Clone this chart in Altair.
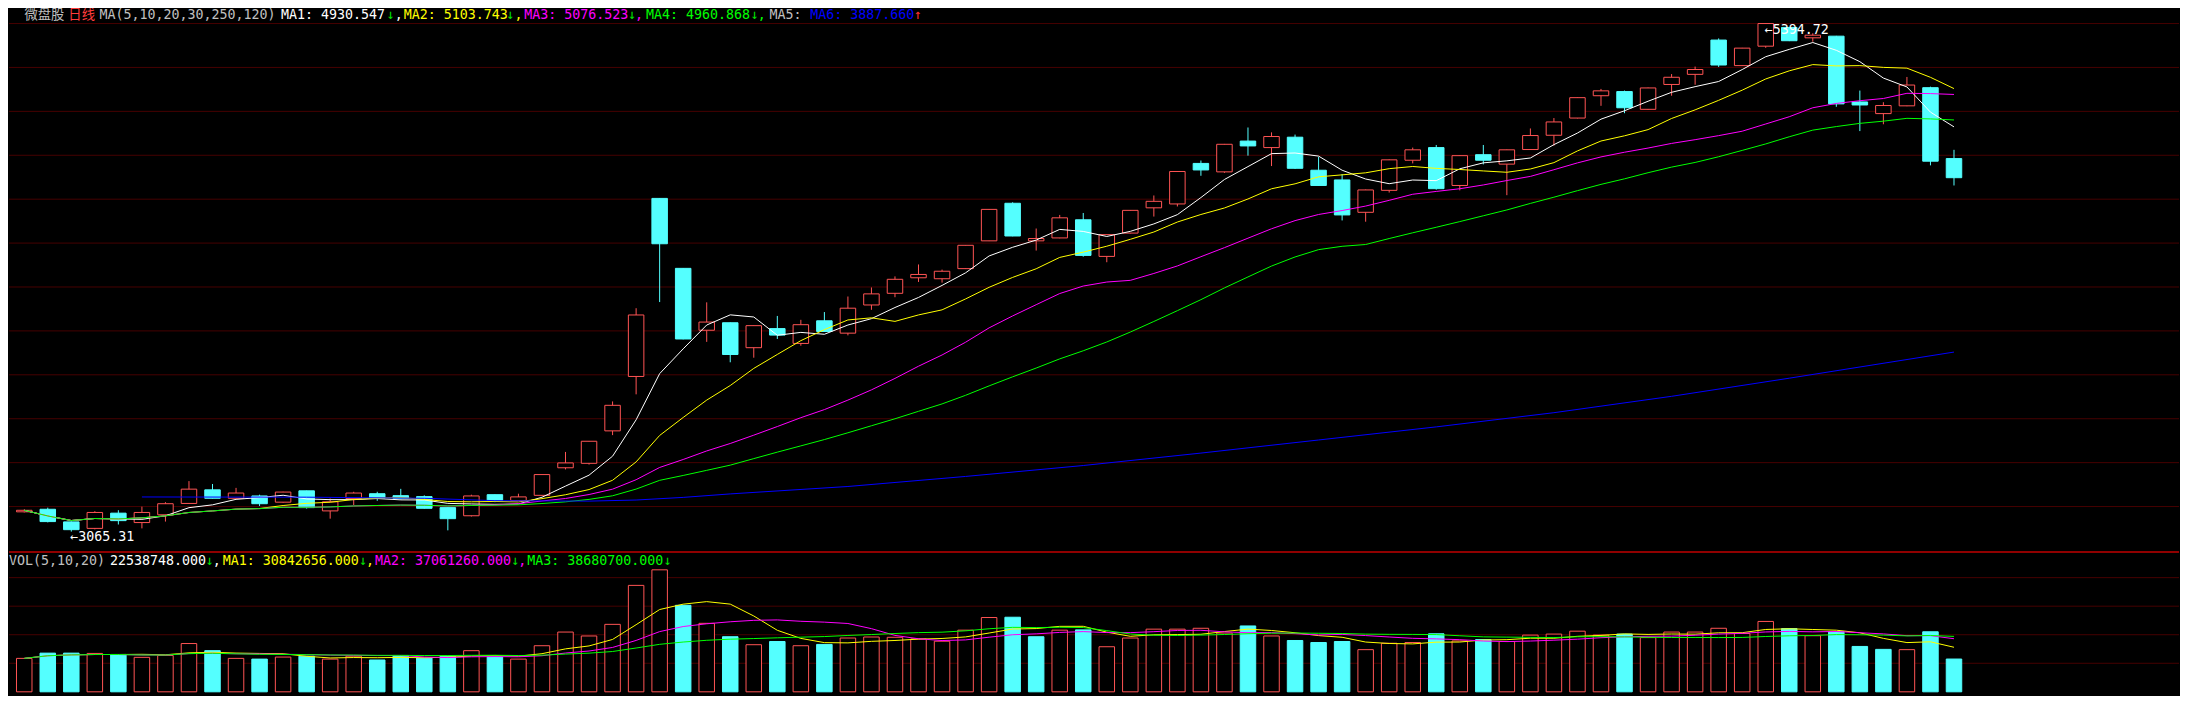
import altair as alt
import pandas as pd

# ---------------- data ----------------
opens = [3156, 3167.7, 3109.8, 3080.1, 3149.9, 3106.7, 3142.3, 3194.4, 3256.7, 3218.0,
         3228.7, 3200.2, 3252.2, 3160.2, 3216.6, 3238.9, 3230.0, 3225.6, 3175.2, 3137.9,
         3234.5, 3207.8, 3231.4, 3357.7, 3378.2, 3526.8, 3776.0, 4591.6, 4271.2, 3987.7,
         4022.0, 3907.7, 3995.3, 3927.3, 4031.0, 3974.4, 4103.4, 4156.9, 4228.0, 4223.6,
         4269.9, 4397.1, 4569.3, 4397.1, 4410.5, 4493.7, 4325.9, 4432.7, 4548.4, 4566.2,
         4751.8, 4713.1, 4854.1, 4824.3, 4871.9, 4720.6, 4676.1, 4527.9, 4628.5, 4766.4,
         4824.3, 4650.8, 4791.8, 4748.6, 4815.4, 4880.8, 4959.6, 5061.9, 5081.0, 4999.6,
         5113.5, 5159.8, 5316.9, 5199.8, 5288.8, 5374.7, 5327.1, 5334.7, 5033.4, 4980.0,
         5015.6, 5098.8, 4774.0]
highs = [3166, 3175, 3112, 3158.8, 3163.3, 3179.6, 3200.2, 3296.7, 3283.4, 3265.6,
         3234.5, 3248.0, 3253.0, 3216.6, 3247.8, 3247.8, 3261.2, 3231.4, 3176.0, 3234.5,
         3235.0, 3238.9, 3327.0, 3430.2, 3480.0, 3661.6, 4088.6, 4593.0, 4272.0, 4115.5,
         4023.0, 4009.0, 4053.2, 4035.4, 4071.0, 4142.2, 4183.6, 4234.3, 4289.0, 4265.4,
         4378.0, 4543.0, 4573.8, 4453.6, 4515.9, 4524.8, 4427.0, 4538.0, 4605.0, 4716.0,
         4765.1, 4841.0, 4916.4, 4894.1, 4883.9, 4781.6, 4702.8, 4632.0, 4770.0, 4824.3,
         4836.3, 4789.0, 4836.3, 4815.0, 4911.9, 4959.6, 5054.0, 5093.0, 5085.5, 5099.0,
         5161.1, 5195.4, 5324.4, 5281.0, 5394.72, 5376.0, 5348.0, 5336.0, 5085.5, 5032.1,
         5147.8, 5103.3, 4814.1]
lows = [3153, 3107.6, 3065.31, 3075.6, 3097.9, 3080.1, 3111.2, 3194.0, 3217.0, 3217.0,
        3182.4, 3198.0, 3170.8, 3124.6, 3186.8, 3206.5, 3212.2, 3171.0, 3071.1, 3134.4,
        3200.2, 3206.0, 3230.0, 3350.1, 3372.3, 3507.2, 3694.1, 4116.8, 3946.0, 3934.4,
        3840.9, 3861.9, 3947.7, 3916.6, 3981.0, 3964.2, 4081.2, 4139.0, 4208.9, 4205.8,
        4268.0, 4396.0, 4418.0, 4352.7, 4409.0, 4324.6, 4299.2, 4431.0, 4508.4, 4554.6,
        4695.2, 4708.6, 4787.4, 4739.7, 4726.4, 4650.0, 4490.6, 4484.8, 4618.3, 4751.8,
        4631.6, 4628.5, 4747.3, 4606.3, 4814.0, 4833.2, 4958.0, 5015.6, 4981.8, 4998.0,
        5061.9, 5112.2, 5193.6, 5198.0, 5281.3, 5312.0, 5309.3, 5011.1, 4899.9, 4931.1,
        5014.0, 4742.9, 4650.8]
closes = [3163, 3111.2, 3074.2, 3153.0, 3115.6, 3153.0, 3193.1, 3259.8, 3218.0, 3242.0,
          3193.1, 3246.4, 3175.2, 3201.9, 3242.0, 3218.0, 3216.6, 3172.1, 3124.6, 3228.7,
          3209.1, 3224.3, 3326.6, 3380.0, 3479.2, 3643.8, 4057.6, 4383.8, 3947.7, 4025.1,
          3876.5, 4008.7, 3965.5, 4013.1, 3982.0, 4088.7, 4154.2, 4221.0, 4243.2, 4257.9,
          4376.7, 4541.3, 4419.4, 4407.8, 4502.6, 4330.4, 4425.6, 4536.8, 4578.2, 4714.8,
          4721.9, 4839.4, 4831.9, 4875.0, 4729.5, 4650.8, 4515.9, 4630.3, 4768.2, 4814.1,
          4636.1, 4787.4, 4766.4, 4814.1, 4879.5, 4941.8, 5053.0, 5084.2, 5006.7, 5097.5,
          5146.4, 5182.0, 5202.5, 5279.9, 5392.5, 5313.8, 5339.1, 5024.5, 5019.5, 5017.0,
          5110.8, 4762.0, 4686.4]
volumes_m = [23.0, 26.6, 26.6, 26.4, 25.7, 23.7, 25.0, 33.2, 28.3, 23.0,
             22.5, 23.9, 24.5, 22.5, 24.5, 21.9, 25.0, 23.2, 24.5, 28.3,
             24.1, 22.5, 31.7, 41.1, 38.4, 46.4, 73.2, 83.9, 59.5, 47.1,
             37.9, 32.4, 34.6, 31.7, 32.6, 37.0, 37.7, 37.5, 36.4, 34.8,
             42.4, 51.1, 51.3, 37.9, 42.4, 42.6, 31.0, 37.0, 43.1, 43.1,
             43.7, 40.4, 45.3, 38.4, 35.3, 33.9, 34.6, 29.0, 33.4, 33.9,
             39.9, 35.0, 35.9, 34.6, 39.0, 39.7, 41.7, 39.0, 39.7, 37.3,
             41.1, 41.1, 43.7, 40.1, 48.4, 43.5, 38.6, 41.3, 31.2, 29.2,
             29.0, 41.3, 22.538748]
# MA6 (120-day) line, read at a few candles
ma6_idx = [5, 12, 17, 20, 24, 26, 28, 30, 35, 40, 45, 50, 55, 60, 65, 70, 75, 82]
ma6_val = [3224, 3223, 3218, 3207, 3205, 3210, 3222, 3238, 3272, 3318, 3368, 3425,
           3485, 3545, 3610, 3685, 3768, 3887.66]

top_header = [
    ("微盘股", 15.6, "#c0c0c0"), ("日线", 60, "#ff3c3c"),
    ("MA(5,10,20,30,250,120)", 91.5, "#c0c0c0"),
    ("MA1: 4930.547", 275, "#ffffff"), ("↓", 382, "#00e000"), (",", 390, "#ffffff"),
    ("MA2: 5103.743", 399, "#ffff00"), ("↓", 503, "#00e000"), (",", 511, "#ffff00"),
    ("MA3: 5076.523", 521, "#ff00ff"), ("↓", 626, "#00e000"), (",", 633, "#ff00ff"),
    ("MA4: 4960.868", 644, "#00ff00"), ("↓", 750, "#00e000"), (",", 757, "#00ff00"),
    ("MA5:", 769, "#c0c0c0"),
    ("MA6: 3887.660", 810, "#0000ff"), ("↑", 915, "#ff3030"),
]
vol_header = [
    ("VOL(5,10,20)", 0, "#c0c0c0"), ("22538748.000", 102, "#ffffff"),
    ("↓", 199, "#00e000"), (",", 206, "#ffffff"),
    ("MA1: 30842656.000", 216, "#ffff00"), ("↓", 354, "#00e000"), (",", 361, "#ffff00"),
    ("MA2: 37061260.000", 370, "#ff00ff"), ("↓", 508, "#00e000"), (",", 515, "#ff00ff"),
    ("MA3: 38680700.000", 524, "#00ff00"), ("↓", 662, "#00e000"),
]

# ---------------- layout ----------------
W, HT, HV = 2170, 544, 142
SX = W / 2194.0
SY = (HT + HV) / 706.0
BW = 15.5
RED, CYAN, BLACK = "#ff5454", "#54ffff", "#000000"
GRID, SEP = "#460000", "#c00000"
FONT = "DejaVu Sans Mono, Noto Sans CJK SC"
FS = 13.3

n = len(closes)
df = pd.DataFrame({"i": list(range(n)), "open": opens, "high": highs, "low": lows,
                   "close": closes, "vol": [v * 1e6 for v in volumes_m]})

P0, PS = 5463.7, 4.4496          # price at reference row 0, points per reference px
y_dom = [P0 - PS * 560, P0]
top_grid = [P0 - PS * (16 + 45.2 * k) for k in range(12)]
V0, VS = 701.7, 668900.0
v_dom = [(V0 - 706) * VS, (V0 - 560) * VS]
vol_grid = [29.35 * k * VS for k in range(1, 5)]
x_dom = [-10.4 / 23.904, (2194 - 10.4) / 23.904]

xs = alt.Scale(domain=x_dom, nice=False, zero=False)
ys = alt.Scale(domain=y_dom, nice=False, zero=False)
vs = alt.Scale(domain=v_dom, nice=False, zero=False)
X = alt.X("i:Q", scale=xs, axis=None)


def YT(f):
    return alt.Y(f, scale=ys, axis=None)


def YV(f):
    return alt.Y(f, scale=vs, axis=None)


up = "datum.close >= datum.open"
base = alt.Chart(df)


def texts(items, ypx):
    out = []
    for t, px, c in items:
        out.append(alt.Chart(alt.Data(values=[{}])).mark_text(
            align="left", baseline="middle", font=FONT, fontSize=FS
        ).encode(x=alt.value(px * SX), y=alt.value(ypx), text=alt.value(t), color=alt.value(c)))
    return out


# ---------- price panel ----------
grid_t = alt.Chart(pd.DataFrame({"g": top_grid})).mark_rule(color=GRID, strokeWidth=1).encode(y=YT("g:Q"))
wick = base.mark_rule(strokeWidth=1).encode(
    x=X, y=YT("low:Q"), y2="high:Q",
    color=alt.condition(up, alt.value(RED), alt.value(CYAN)))
body = base.transform_calculate(
    bot="min(datum.open, datum.close)", top="max(datum.open, datum.close)"
).mark_bar(size=BW, strokeWidth=1).encode(
    x=X, y=YT("bot:Q"), y2="top:Q",
    fill=alt.condition(up, alt.value(BLACK), alt.value(CYAN)),
    stroke=alt.condition(up, alt.value(RED), alt.value(CYAN)))


def ma_line(src, field, nd, color, ysc):
    return src.transform_window(
        m=f"mean({field})", frame=[-(nd - 1), 0], sort=[{"field": "i"}]
    ).mark_line(color=color, strokeWidth=1, interpolate="linear").encode(x=X, y=ysc("m:Q"))


ma_lines = [ma_line(base, "close", 5, "#ffffff", YT), ma_line(base, "close", 10, "#ffff00", YT),
            ma_line(base, "close", 20, "#ff00ff", YT), ma_line(base, "close", 30, "#00ff00", YT)]
ma6 = alt.Chart(pd.DataFrame({"i": ma6_idx, "m": ma6_val})).mark_line(
    color="#0000ff", strokeWidth=1).encode(x=X, y=YT("m:Q"))

lo_i = lows.index(min(lows))
hi_i = highs.index(max(highs))
ann = pd.DataFrame({"i": [lo_i, hi_i], "v": [lows[lo_i], highs[hi_i]],
                    "t": ["←%.2f" % lows[lo_i], "←%.2f" % highs[hi_i]],
                    "d": [5.5, 6.5]})
ann_lo = alt.Chart(ann.iloc[[0]]).mark_text(align="left", baseline="middle", dy=5.5, dx=-1,
                                            color="#ffffff", font=FONT, fontSize=FS).encode(
    x=X, y=YT("v:Q"), text="t:N")
ann_hi = alt.Chart(ann.iloc[[1]]).mark_text(align="left", baseline="middle", dy=6.5, dx=-1,
                                            color="#ffffff", font=FONT, fontSize=FS).encode(
    x=X, y=YT("v:Q"), text="t:N")
sep = alt.Chart(pd.DataFrame({"g": [y_dom[0]]})).mark_rule(color=SEP, strokeWidth=1.5).encode(y=YT("g:Q"))

top = alt.layer(grid_t, wick, body, *ma_lines, ma6, ann_lo, ann_hi, sep,
                *texts(top_header, 7.3 * SY)).properties(width=W, height=HT)

# ---------- volume panel ----------
vbase = alt.Chart(df).transform_window(prev="lag(close)", sort=[{"field": "i"}])
vup = "datum.prev == null || datum.close >= datum.prev"
grid_v = alt.Chart(pd.DataFrame({"g": vol_grid})).mark_rule(color=GRID, strokeWidth=1).encode(y=YV("g:Q"))
vbars = vbase.mark_bar(size=BW, strokeWidth=1).encode(
    x=X, y=YV("vol:Q"), y2=alt.datum(0),
    fill=alt.condition(vup, alt.value(BLACK), alt.value(CYAN)),
    stroke=alt.condition(vup, alt.value(RED), alt.value(CYAN)))
vma = [ma_line(base, "vol", 5, "#ffff00", YV), ma_line(base, "vol", 10, "#ff00ff", YV),
       ma_line(base, "vol", 20, "#00ff00", YV)]

vol = alt.layer(grid_v, vbars, *vma, *texts(vol_header, 7.0 * SY)).properties(width=W, height=HV)

chart = alt.vconcat(top, vol, spacing=0).properties(
    padding={"left": 0, "top": 0, "right": 0, "bottom": 0}
).configure(background="#000000").configure_view(stroke=None)

chart.save("out.html", embed_options={"renderer": "svg", "actions": False})
